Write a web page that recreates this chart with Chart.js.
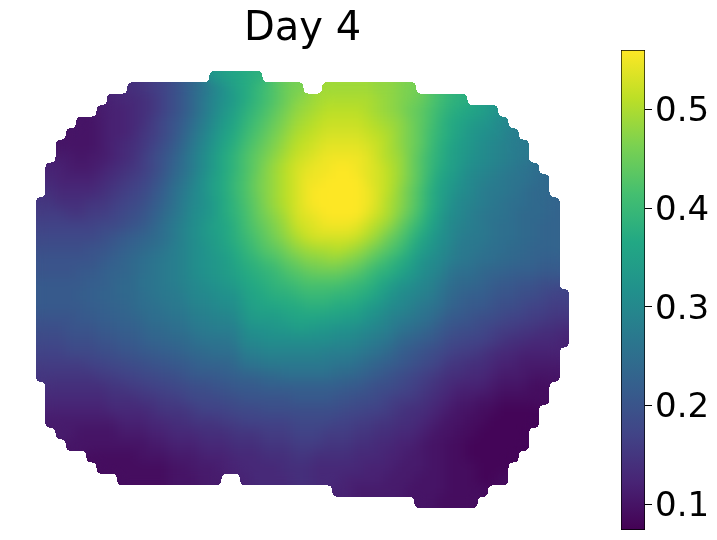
<!DOCTYPE html>
<html>
<head>
<meta charset="utf-8">
<style>
  html, body { margin: 0; background: #fff; }
  canvas { position: absolute; top: 0; }
</style>
<script src="https://cdn.jsdelivr.net/npm/chart.js@4"></script>
</head>
<body>
<canvas id="map" width="717" height="540" style="left:0"></canvas>
<canvas id="bar" width="107" height="540" style="left:610px"></canvas>
<script>
const titleText = 'Day 4';
const colCount = 52;
const rowCount = 38;
const valueMin = 0.074;
const valueMax = 0.56;
const tickValues = [0.1, 0.2, 0.3, 0.4, 0.5];
const viridis = ['#440154', '#482475', '#414487', '#355f8d', '#2a788e', '#21918c', '#22a884', '#44bf70', '#7ad151', '#bddf26', '#fde725'];

// first column of each row, then the row's cells in hundredths (null = hole in the outline)
const rowStarts = [17, 9, 7, 6, 4, 3, 2, 2, 1, 1, 1, 0, 0, 0, 0, 0, 0, 0, 0, 0, 0, 0, 0, 0, 0, 0, 0, 1, 1, 1, 1, 2, 3, 5, 6, 8, 29, 37];
const rowValues = [
  [33,35,36,37,38],
  [14,15,16,17,19,21,24,26,29,32,35,37,39,41,43,45,46,null,null,49,49,49,49,49,48,48,47,46],
  [12,13,13,14,15,17,19,21,24,27,30,32,34,37,39,41,43,45,47,48,49,50,50,50,50,50,49,48,47,46,45,43,41,39,38],
  [11,12,12,13, 14,15,17,19,21, 24,27,30,33,35, 38,40,42,44,46, 48,49,50,51,51, 51,51,50,49,48, 47,45,44,42,40, 38,37,36,35,33],
  [10, 10,11,12,12,13, 14,16,18,20,22, 25,28,31,34,36, 39,41,43,45,47, 49,50,51,52,52, 52,52,51,50,49, 48,46,44,42,39, 37,36,34,33,32, 30],
  [10,10, 10,11,12,12,13, 15,16,18,20,23, 26,29,32,35,37, 40,42,44,46,48, 50,51,52,53,53, 53,53,52,51,50, 48,46,44,41,39, 37,35,33,32,31, 30,28],
  [10,10,10, 10,11,12,13,14, 15,17,19,21,24, 27,30,33,36,38, 41,43,45,47,49, 51,52,53,54,54, 54,54,53,52,50, 48,46,44,41,38, 36,34,33,31,30, 29,28,27],
  [11,11,10, 11,11,12,13,14, 16,18,20,22,25, 28,31,34,37,39, 42,44,46,48,50, 52,53,54,55,55, 55,55,54,52,50, 49,46,43,40,38, 35,34,32,31,30, 29,28,27],
  [12,12,11,11, 11,12,13,14,15, 16,18,20,23,25, 28,31,34,37,39, 42,44,47,49,51, 53,54,55,55,56, 56,55,54,53,51, 49,46,43,40,37, 35,33,31,30,29, 28,27,26,25],
  [13,12,12,12, 12,13,14,15,16, 17,19,21,24,26, 29,32,35,37,40, 42,45,47,49,51, 53,55,55,56,56, 56,56,54,53,51, 49,46,43,39,36, 34,32,30,29,28, 27,26,26,25,24],
  [14,13,13,13, 13,14,15,16,17, 18,20,22,25,27, 30,32,35,37,40, 42,45,47,49,51, 53,55,56,56,56, 56,56,55,53,51, 48,45,42,38,35, 33,31,30,28,27, 27,26,25,24,24],
  [15,15,14,14,14, 15,15,16,17,18, 19,21,23,25,28, 30,32,34,37,39, 42,44,47,49,51, 53,55,56,56,56, 56,56,55,53,50, 48,45,42,38,35, 32,30,29,28,27, 26,25,25,24,24, 23],
  [16,16,16,15,15, 16,16,17,18,19, 20,22,24,26,28, 31,32,34,37,39, 41,44,46,48,50, 53,54,55,56,56, 56,56,54,52,50, 47,44,41,37,34, 31,30,28,27,26, 26,25,24,24,24, 23],
  [17,17,17,17,17, 17,18,18,19,20, 21,23,25,27,29, 31,33,35,36,38, 41,43,45,47,49, 52,53,54,55,55, 55,54,52,50,48, 45,42,39,36,33, 30,29,28,27,26, 25,25,24,24,23, 23],
  [18,18,18,18,18, 18,19,20,21,22, 23,24,25,27,29, 31,33,34,36,38, 40,42,44,46,48, 50,52,53,53,53, 53,52,50,48,45, 43,40,37,34,32, 30,28,27,27,26, 25,25,24,24,23, 23],
  [19,19,19,19,19, 20,20,21,22,23, 24,25,26,28,29, 31,32,34,35,37, 39,41,43,44,46, 48,49,50,50,51, 50,49,47,45,43, 41,38,35,33,31, 29,27,27,26,25, 25,24,24,23,23, 23],
  [20,20,20,20,20, 20,21,22,23,24, 25,26,27,28,29, 31,32,33,34,36, 38,39,41,42,44, 45,47,47,48,48, 47,46,44,42,40, 38,36,33,31,30, 28,27,26,25,25, 24,24,23,23,22, 22],
  [20,20,20,20,21, 21,22,23,23,24, 25,26,27,28,29, 31,32,33,34,35, 37,38,39,40,42, 43,44,45,45,45, 44,43,41,39,38, 36,34,32,30,29, 26,25,25,24,23, 23,22,22,22,21, 21],
  [21,21,21,21,21, 22,22,23,24,24, 26,26,27,28,29, 30,31,32,33,34, 36,37,38,39,40, 41,42,42,42,42, 41,40,39,37,35, 33,32,30,29,27, 25,24,24,23,22, 21,21,20,20,19, 19],
  [21,21,21,21,22, 22,23,23,24,24, 25,26,27,27,28, 30,30,31,32,32, 35,36,37,38,38, 39,40,40,40,39, 39,38,37,35,33, 31,30,29,28,26, 24,23,22,22,21, 20,20,19,19,18, 17,17],
  [21,21,21,21,21, 22,22,23,23,24, 25,25,26,27,27, 29,29,30,31,31, 34,35,36,36,37, 37,38,38,38,37, 37,36,34,33,31, 30,29,27,26,25, 23,22,21,21,20, 19,19,18,17,17, 16,16],
  [20,20,20,20,21, 21,22,22,23,23, 24,25,25,26,26, 28,28,29,29,30, 33,34,34,34,35, 36,36,36,35,35, 34,34,32,31,29, 28,27,26,25,23, 21,21,20,19,19, 18,17,17,16,16, 15,15],
  [19,19,19,20,20, 20,21,21,22,22, 23,24,24,25,25, 27,27,28,28,28, 31,32,32,33,33, 34,34,33,33,32, 32,31,30,29,28, 26,25,24,23,21, 20,19,19,18,17, 16,16,15,15,14, 14,13],
  [18,18,18,19,19, 19,20,20,21,21, 22,23,23,24,24, 25,26,26,26,27, 30,30,31,31,31, 31,31,31,31,30, 30,29,28,27,26, 24,23,22,21,20, 18,18,17,17,16, 15,14,14,13,13, 13,12],
  [17,17,17,18,18, 18,19,19,20,20, 21,21,22,22,23, 24,24,25,25,25, 28,28,29,29,29, 29,29,29,28,28, 28,27,26,25,24, 22,21,20,19,18, 17,16,16,15,14, 13,13,12,12,12, 12],
  [16,16,16,16,16, 17,17,18,18,19, 19,20,20,21,21, 22,23,23,23,24, 26,26,27,27,27, 27,27,27,27,26, 26,25,24,23,22, 21,20,19,18,17, 15,15,14,14,13, 12,12,11,11,11, 11],
  [15,15,15,15,15, 15,16,16,17,17, 18,18,19,19,20, 21,21,21,22,22, 23,23,24,24,25, 25,25,25,25,24, 24,23,22,21,20, 19,18,17,16,15, 14,14,13,13,12, 11,11,11,10,10, 10],
  [14,14,14,14, 14,14,15,15,16, 16,17,17,18,18, 19,19,20,20,21, 21,21,22,22,22, 22,22,22,22,22, 21,21,20,19,19, 18,17,16,15,14, 13,12,12,12,11, 10,10,10,9,9],
  [13,13,13,13, 13,13,14,14,14, 15,15,16,16,17, 18,18,18,19,19, 20,20,20,20,20, 21,21,21,21,20, 20,19,19,18,17, 16,16,15,14,13, 12,11,11,10,10, 9,9,9,9,9],
  [12,12,12,12, 12,12,13,13,13, 13,14,15,15,15, 16,17,17,17,18, 18,18,19,19,19, 19,19,19,19,19, 18,18,17,17,16, 15,14,14,13,12, 11,10,10,9,9, 8,8,8,8],
  [11,11,11,11, 11,11,11,12,12, 12,13,13,14,14, 15,15,15,16,16, 17,17,17,17,17, 18,18,18,18,17, 17,16,16,15,15, 14,14,13,12,11, 10,10,9,9,8, 8,8,8,8],
  [11,11,10, 10,10,10,11,11, 11,12,12,13,13, 13,14,14,14,15, 15,15,16,16,16, 17,17,17,16,16, 16,15,15,14,14, 13,13,12,11,10, 10,9,9,8,8, 8,8,8],
  [10,10, 10,10,10,10,10, 10,11,11,12,12, 12,13,13,13,14, 14,14,15,15,15, 16,16,16,15,15, 15,14,14,13,13, 12,12,11,10,10, 9,9,8,8,8, 8,8,8],
  [9,9,9,9,9, 10,10,10,11,11, 11,12,12,12,13, 13,13,14,14,14, 15,15,14,14,14, 14,13,13,13,12, 12,11,11,10,10, 9,9,8,8,8, 8,8],
  [9,9,9,9, 9,9,9,10,10, 11,11,11,12,12, 13,13,13,13,14, 14,14,13,13,13, 13,13,12,12,12, 11,11,11,10,10, 9,9,9,8,8, 8],
  [9,9, 9,9,9,10,10, 10,11,11,null,null, 12,13,13,13,13, 14,14,13,13,13, 12,12,12,12,11, 11,11,10,10,10, 9,9,9,8,8, 9],
  [12, 12,11,11,11,11, 11,10,10,10,10, 9,9,9,9],
  [10,10,9, 9,9,9]
];

function cellColor(v) {
  const t = Math.min(1, Math.max(0, (v - valueMin) / (valueMax - valueMin))) * (viridis.length - 1);
  const i = Math.min(viridis.length - 2, Math.floor(t));
  const hex = (s) => [1, 3, 5].map(k => parseInt(s.slice(k, k + 2), 16));
  const a = hex(viridis[i]);
  const b = hex(viridis[i + 1]);
  const c = a.map((n, k) => Math.round(n + (b[k] - n) * (t - i)));
  return `rgb(${c[0]},${c[1]},${c[2]})`;
}

const cells = [];
rowValues.forEach((row, r) => {
  row.forEach((v, k) => {
    if (v === null) return;
    cells.push({ x: rowStarts[r] + k + 0.5, y: r + 0.5, v: v / 100 });
  });
});

// soften the cells the way the original's shading does: colour from a wide blur, edge from a narrow one
const softenCells = {
  id: 'softenCells',
  afterDatasetsDraw(chart) {
    const src = chart.canvas;
    const y0 = 58;
    const w = 612;
    const h = src.height - y0;
    const blurred = (sigma) => {
      const off = document.createElement('canvas');
      off.width = w;
      off.height = h;
      const c = off.getContext('2d', { willReadFrequently: true });
      c.filter = `blur(${sigma}px)`;
      c.drawImage(src, 0, y0, w, h, 0, 0, w, h);
      return c.getImageData(0, 0, w, h);
    };
    const colour = blurred(6);
    const edge = blurred(2.5);
    for (let i = 3; i < colour.data.length; i += 4) {
      colour.data[i] = edge.data[i] >= 128 ? 255 : 0;
    }
    chart.ctx.putImageData(colour, 0, y0);
  }
};

new Chart(document.getElementById('map'), {
  type: 'scatter',
  data: {
    datasets: [{
      data: cells,
      pointStyle: 'rect',
      pointRadius: 8.6,
      pointBorderWidth: 0,
      pointBackgroundColor: cells.map(c => cellColor(c.v))
    }]
  },
  plugins: [softenCells],
  options: {
    responsive: false,
    animation: false,
    layout: { padding: { left: 36, right: 148, top: 6, bottom: 32 } },
    plugins: {
      legend: { display: false },
      tooltip: { enabled: false },
      title: {
        display: true,
        text: titleText,
        color: '#000',
        padding: { top: 0, bottom: 17 },
        font: { family: 'DejaVu Sans', size: 40, weight: 'normal' }
      }
    },
    scales: {
      x: { type: 'linear', display: false, min: 0, max: colCount },
      y: { type: 'linear', display: false, min: 0, max: rowCount, reverse: true }
    }
  }
});

new Chart(document.getElementById('bar'), {
  type: 'bar',
  data: {
    labels: [''],
    datasets: [{
      data: [[valueMin, valueMax]],
      barPercentage: 1,
      categoryPercentage: 1,
      borderSkipped: false,
      borderWidth: 1,
      borderColor: '#000',
      backgroundColor: (ctx) => {
        const area = ctx.chart.chartArea;
        if (!area) return viridis[0];
        const g = ctx.chart.ctx.createLinearGradient(0, area.bottom, 0, area.top);
        viridis.forEach((c, i) => g.addColorStop(i / (viridis.length - 1), c));
        return g;
      }
    }]
  },
  options: {
    responsive: false,
    animation: false,
    layout: { padding: { left: 11, right: 0, top: 50, bottom: 10 } },
    plugins: { legend: { display: false }, tooltip: { enabled: false } },
    scales: {
      x: { display: false },
      y: {
        position: 'right',
        min: valueMin,
        max: valueMax,
        afterBuildTicks: (scale) => { scale.ticks = tickValues.map(v => ({ value: v })); },
        afterFit: (scale) => {
          scale.width = 72;
          scale.paddingTop = 0;
          scale.paddingBottom = 0;
        },
        border: { display: false },
        grid: { drawOnChartArea: false, tickLength: 7, tickColor: '#000', tickWidth: 1 },
        ticks: {
          autoSkip: false,
          color: '#000',
          padding: 3,
          labelOffset: 3,
          font: { family: 'DejaVu Sans', size: 34 },
          callback: (v) => v.toFixed(1)
        }
      }
    }
  }
});
</script>
</body>
</html>
